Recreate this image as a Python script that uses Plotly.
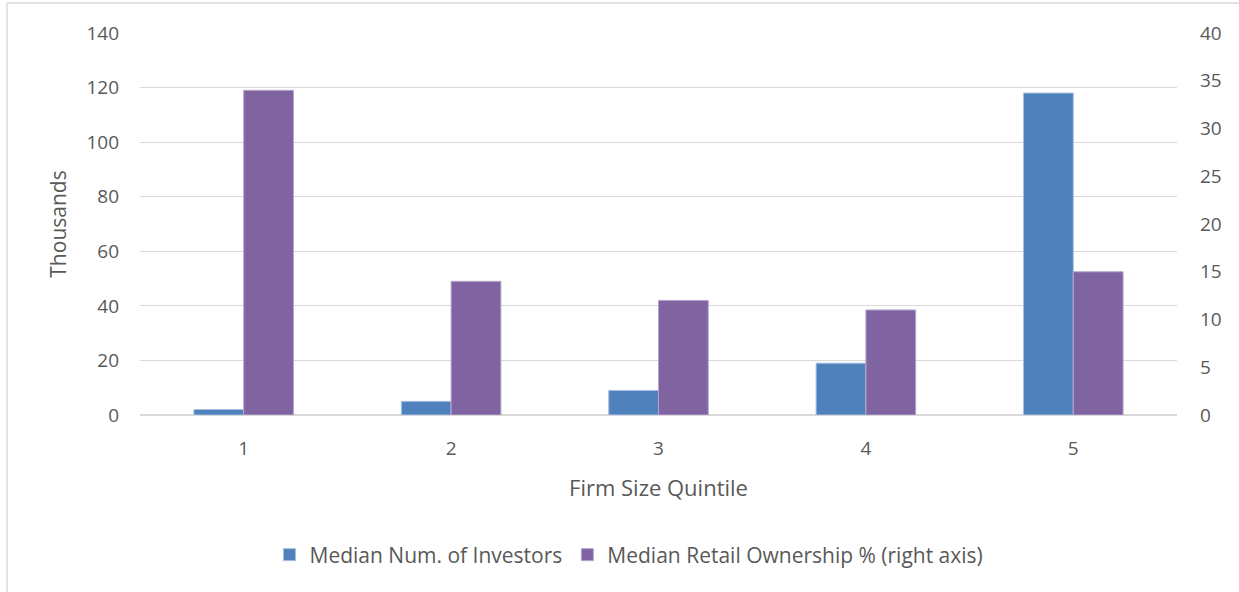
import plotly.graph_objects as go

quintiles = ["1", "2", "3", "4", "5"]
investors_thousands = [2, 5, 9, 19, 118]
retail_ownership_pct = [34, 14, 12, 11, 15]

FONT = "Open Sans"
TXT = "#595959"
GRID = "#D9D9D9"

fig = go.Figure()
fig.add_trace(go.Bar(
    x=quintiles, y=investors_thousands, name="Median Num. of Investors",
    marker=dict(color="#4F81BD", line=dict(color="#A9BFE0", width=1)),
    offsetgroup="a", yaxis="y",
))
fig.add_trace(go.Bar(
    x=quintiles, y=retail_ownership_pct, name="Median Retail Ownership % (right axis)",
    marker=dict(color="#8064A2", line=dict(color="#B7A5CC", width=1)),
    offsetgroup="b", yaxis="y2",
))

W, H = 1239, 592
L, R, T, B = 140, 62, 33, 177
pw = W - L - R
ph = H - T - B

fig.update_layout(
    width=W, height=H,
    margin=dict(l=L, r=R, t=T, b=B),
    paper_bgcolor="white", plot_bgcolor="white",
    barmode="group", bargap=0.52, bargroupgap=0,
    font=dict(family=FONT, color=TXT, size=19),
    xaxis=dict(
        title=dict(text="Firm Size Quintile", font=dict(size=22, color=TXT), standoff=20),
        showgrid=False, showline=True, linecolor=GRID, ticks="",
        tickfont=dict(size=19, color=TXT), ticklabelstandoff=16,
    ),
    yaxis=dict(
        title=dict(text="Thousands", font=dict(size=21, color=TXT), standoff=14),
        range=[0, 140], dtick=20, showgrid=True, gridcolor=GRID, gridwidth=1,
        zeroline=True, zerolinecolor=GRID, showline=False, ticks="",
        tickfont=dict(size=19, color=TXT), ticklabelstandoff=20,
    ),
    yaxis2=dict(
        overlaying="y", side="right", range=[0, 40], dtick=5,
        showgrid=False, zeroline=False, showline=False, ticks="",
        tickfont=dict(size=19, color=TXT), ticklabelstandoff=22,
    ),
    legend=dict(
        orientation="h", x=(629 - L) / pw, xanchor="center",
        y=(T + ph - 555) / ph, yanchor="middle",
        font=dict(size=21, color=TXT), itemwidth=30,
    ),
    shapes=[
        dict(type="line", xref="paper", yref="paper",
             x0=(7 - L) / pw, x1=(7 - L) / pw, y0=(T + ph - 3) / ph, y1=(T + ph - 600) / ph,
             line=dict(color=GRID, width=1.5)),
        dict(type="line", xref="paper", yref="paper",
             x0=(7 - L) / pw, x1=(1300 - L) / pw, y0=(T + ph - 3) / ph, y1=(T + ph - 3) / ph,
             line=dict(color=GRID, width=1.5)),
    ],
)

fig.write_html(
    "out.html",
    config={"displayModeBar": False},
    post_script="document.body.style.margin='0';document.body.style.overflow='hidden';",
)
